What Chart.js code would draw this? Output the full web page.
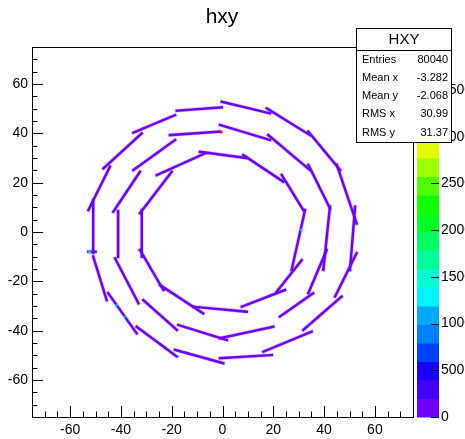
<!DOCTYPE html>
<html lang="en">
<head>
<meta charset="UTF-8">
<title>hxy</title>
<script src="https://cdn.jsdelivr.net/npm/chart.js"></script>
<style>
  html, body { margin: 0; padding: 0; background: #fff; }
</style>
</head>
<body>
<canvas id="hxy" width="465" height="439"></canvas>
<script>
// axis ticks
const xTicks = [-60, -40, -20, 0, 20, 40, 60];
const yTicks = [-60, -40, -20, 0, 20, 40, 60];
const zTicks = [0, 500, 1000, 1500, 2000, 2500, 3000, 3500];
const zMax = 3960;

// palette, one colour per contour level (20 levels, 0 .. zMax)
const paletteColors = [
  '#6e00ff', '#4400ff', '#1a00ff', '#0040ff', '#0080ff',
  '#00a8ff', '#00f4ff', '#00ffd4', '#00ff9a', '#00ff60',
  '#00ff22', '#12ff00', '#50ff00', '#a0ff00', '#e0ff00',
  '#ffd000', '#ff9c00', '#ff6400', '#ff3000', '#ff0000'
];

const outerStaves = [
  [-18.0, 49.2, -0.3, 50.5],
  [-0.3, 52.8, 18.7, 48.1],
  [17.4, 50.1, 34.4, 39.3],
  [33.8, 40.7, 46.3, 25.1],
  [45.0, 27.2, 52.8, 3.5],
  [52.2, 10.3, 50.2, -15.4],
  [52.8, -8.6, 44.3, -26.2],
  [46.9, -26.2, 31.8, -39.7],
  [35.1, -40.4, 16.1, -48.5],
  [19.4, -49.9, -1.0, -51.2],
  [0.3, -53.2, -18.7, -47.8],
  [-18.0, -50.5, -33.8, -38.4],
  [-33.8, -41.1, -45.0, -24.8],
  [-45.6, -27.6, -50.9, -10.0],
  [-50.9, -8.5, -50.9, 13.0],
  [-52.8, 8.9, -44.3, 26.5],
  [-46.9, 25.8, -31.8, 40.0],
  [-35.1, 40.3, -18.7, 47.4],
  [-52.8, -8.0, -50.0, -8.0]
];
const middleStaves = [
  [-20.7, 39.3, -1.0, 40.7],
  [-1.0, 43.4, 18.7, 37.3],
  [18.0, 39.3, 34.4, 25.1],
  [33.8, 27.2, 42.3, 9.6],
  [42.3, 10.3, 39.7, -15.4],
  [41.0, -7.3, 33.8, -24.8],
  [35.7, -24.8, 22.6, -34.3],
  [20.0, -38.4, -1.0, -43.1],
  [1.7, -43.8, -17.4, -37.7],
  [-18.0, -39.7, -31.2, -27.6],
  [-33.1, -28.9, -42.3, -10.7],
  [-41.1, -10.1, -41.1, 8.5],
  [-43.0, 8.2, -32.5, 24.4],
  [-35.1, 25.1, -18.7, 37.3]
];
const innerStaves = [
  [-25.9, 23.1, -6.9, 31.9],
  [-8.9, 32.5, 9.5, 30.0],
  [8.2, 31.2, 23.9, 20.4],
  [23.3, 23.1, 31.8, 8.9],
  [32.5, 8.9, 27.2, -15.4],
  [31.2, -11.4, 21.3, -24.2],
  [24.6, -23.5, 7.6, -30.3],
  [9.5, -32.3, -11.5, -30.3],
  [-7.6, -33.0, -24.6, -21.5],
  [-23.3, -23.5, -32.5, -7.3],
  [-31.8, -10.0, -31.8, 8.9],
  [-32.5, 7.6, -20.0, 24.4]
];
// the few bins above the lowest level [x, y, content]
const hotBins = [
  [-0.5, 40.5, 3900],
  [-52.3, -8.3, 1500],
  [31.2, 0.8, 1300],
  [-41.7, -29.6, 1100],
  [-38.4, -34.3, 1100]
];

const statLabels = ['Entries', 'Mean x', 'Mean y', 'RMS x', 'RMS y'];
const statValues = ['80040', '-3.282', '-2.068', '30.99', '31.37'];

const FONT = '"Liberation Sans", Arial, Helvetica, sans-serif';

function levelColor(v) {
  let i = Math.floor(v / (zMax / paletteColors.length));
  return paletteColors[Math.min(i, paletteColors.length - 1)];
}

const datasets = [];
[outerStaves, middleStaves, innerStaves].forEach(ring => {
  ring.forEach(s => {
    const pts = [{x: s[0], y: s[1]}, {x: s[2], y: s[3]}];
    datasets.push({ data: pts, showLine: true, borderColor: paletteColors[0], borderWidth: 2.5,
      pointRadius: 0, borderCapStyle: 'square', order: 1 });
    datasets.push({ data: pts, showLine: true, borderColor: 'rgba(110,0,255,0.2)', borderWidth: 4,
      pointRadius: 0, borderCapStyle: 'square', order: 2 });
  });
});
datasets.push({
  data: hotBins.map(b => ({x: b[0], y: b[1]})),
  pointStyle: 'rect', pointRadius: 1.8, borderWidth: 0,
  backgroundColor: hotBins.map(b => levelColor(b[2])), order: 0
});

function setTicks(list) {
  return s => { s.ticks = list.map(v => ({value: v})); };
}
function fixBox(w, h) {
  return s => {
    if (w) s.width = w;
    if (h) s.height = h;
    s.paddingTop = 0; s.paddingBottom = 0; s.paddingLeft = 0; s.paddingRight = 0;
  };
}

const rootPad = {
  id: 'rootPad',
  afterDatasetsDraw(chart) {
    const {ctx, chartArea: a, scales: {x, y}} = chart;
    ctx.save();
    ctx.strokeStyle = '#000';
    ctx.lineWidth = 1;
    ctx.beginPath();
    // ticks every 5, long ones on the labelled values
    for (let v = -75; v <= 75; v += 5) {
      const len = v % 20 === 0 ? 11 : 5.5;
      const px = Math.round(x.getPixelForValue(v)) + 0.5;
      ctx.moveTo(px, a.bottom); ctx.lineTo(px, a.bottom - len);
      const py = Math.round(y.getPixelForValue(v)) + 0.5;
      ctx.moveTo(a.left, py); ctx.lineTo(a.left + len, py);
    }
    ctx.stroke();
    ctx.strokeRect(Math.round(a.left) + 0.5, Math.round(a.top) + 0.5,
      Math.round(a.right - a.left), Math.round(a.bottom - a.top));
    ctx.restore();
  },
  afterDraw(chart) {
    const {ctx, scales: {z}} = chart;
    ctx.save();
    // colour palette
    const step = zMax / paletteColors.length;
    paletteColors.forEach((c, i) => {
      const top = z.getPixelForValue((i + 1) * step);
      const bot = z.getPixelForValue(i * step);
      ctx.fillStyle = c;
      ctx.fillRect(417, top, 22, bot - top + 0.5);
    });
    ctx.strokeStyle = '#000';
    ctx.beginPath();
    zTicks.forEach(v => {
      const py = Math.round(z.getPixelForValue(v)) + 0.5;
      ctx.moveTo(439, py); ctx.lineTo(431, py);
    });
    ctx.stroke();

    // title
    ctx.fillStyle = '#000';
    ctx.font = '21px ' + FONT;
    ctx.textAlign = 'center';
    ctx.textBaseline = 'alphabetic';
    ctx.fillText('hxy', 222, 23);

    // stats box
    ctx.fillStyle = '#fff';
    ctx.fillRect(356.5, 28.5, 95, 114);
    ctx.strokeRect(356.5, 28.5, 95, 114);
    ctx.beginPath();
    ctx.moveTo(356.5, 50.5); ctx.lineTo(451.5, 50.5);
    ctx.stroke();
    ctx.fillStyle = '#000';
    ctx.font = '15px ' + FONT;
    ctx.textBaseline = 'middle';
    ctx.fillText('HXY', 404, 40);
    ctx.font = '11px ' + FONT;
    statLabels.forEach((l, i) => {
      const yy = 59.5 + i * 18.3;
      ctx.textAlign = 'left';
      ctx.fillText(l, 362, yy);
      ctx.textAlign = 'right';
      ctx.fillText(statValues[i], 448, yy);
    });
    ctx.restore();
  }
};

const tickFont = {family: FONT, size: 14};
const plainLabel = v => String(v);

new Chart(document.getElementById('hxy'), {
  type: 'scatter',
  data: { datasets: datasets },
  options: {
    responsive: false,
    animation: false,
    layout: { padding: { top: 47, left: 0, right: 0, bottom: 0 } },
    plugins: { legend: { display: false }, tooltip: { enabled: false }, title: { display: false } },
    scales: {
      x: {
        type: 'linear', position: 'bottom', min: -75, max: 75,
        grid: { display: false, drawTicks: false }, border: { display: false },
        ticks: { font: tickFont, color: '#000', padding: 5, maxRotation: 0, callback: plainLabel },
        afterBuildTicks: setTicks(xTicks),
        afterFit: fixBox(0, 22)
      },
      y: {
        type: 'linear', position: 'left', min: -75, max: 75,
        grid: { display: false, drawTicks: false }, border: { display: false },
        ticks: { font: tickFont, color: '#000', padding: 4, callback: plainLabel },
        afterBuildTicks: setTicks(yTicks),
        afterFit: fixBox(32, 0)
      },
      z: {
        type: 'linear', position: 'right', min: 0, max: zMax,
        grid: { display: false, drawTicks: false }, border: { display: false },
        ticks: { font: tickFont, color: '#000', padding: 28, callback: plainLabel },
        afterBuildTicks: setTicks(zTicks),
        afterFit: fixBox(52, 0)
      }
    }
  },
  plugins: [rootPad]
});
</script>
</body>
</html>
